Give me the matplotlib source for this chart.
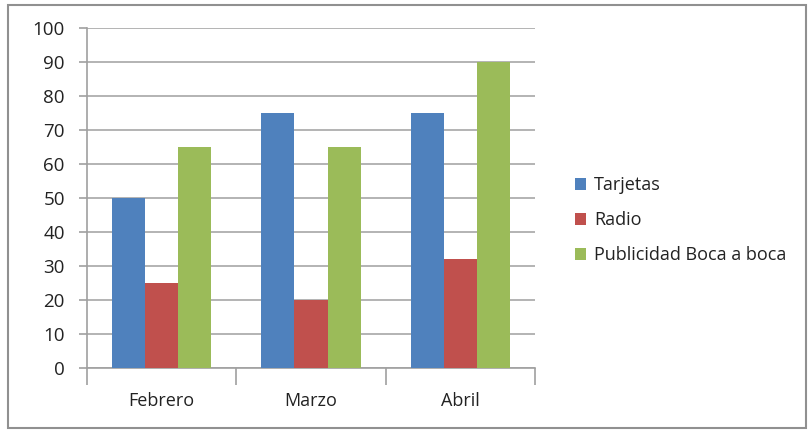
import numpy as np
import matplotlib.pyplot as plt
from matplotlib.patches import Rectangle

meses = ["Febrero", "Marzo", "Abril"]
tarjetas = [50, 75, 75]
radio = [25, 20, 32]
boca = [65, 65, 90]
series = ["Tarjetas", "Radio", "Publicidad Boca a boca"]
colores = ["#4F81BD", "#C0504D", "#9BBB59"]

plt.rcParams['font.family'] = ['Open Sans', 'DejaVu Sans']

fig = plt.figure(figsize=(8.1, 4.32), dpi=100)
ax = fig.add_axes([0.1074, 0.148, 0.553, 0.787])

x = np.arange(len(meses))
w = 0.222
for i, (vals, nombre) in enumerate(zip([tarjetas, radio, boca], series)):
    ax.bar(x + (i - 1) * w, vals, width=w, color=colores[i], label=nombre, zorder=3)

ax.set_xlim(-0.5, 2.5)
ax.set_ylim(0, 100)
ax.set_yticks(range(0, 101, 10))
ax.yaxis.grid(True, color="#b3b3b3", linewidth=1.4, zorder=0)
ax.set_xticks([-0.5, 0.5, 1.5, 2.5])
ax.set_xticklabels([])
ax.set_xticks(x, minor=True)
ax.set_xticklabels(meses, minor=True, fontsize=13, color="#222222")
ax.tick_params(axis="x", which="major", length=12, color="#a0a0a0", width=1.2)
ax.tick_params(axis="x", which="minor", length=0, pad=17)
ax.tick_params(axis="y", length=6, color="#a0a0a0", width=1.2, labelsize=13.5, labelcolor="#222222", pad=10)

for s in ["top", "right"]:
    ax.spines[s].set_visible(False)
for s in ["left", "bottom"]:
    ax.spines[s].set_color("#a0a0a0")
    ax.spines[s].set_linewidth(1.2)

leg = fig.legend(loc="center left", bbox_to_anchor=(0.69, 0.49), frameon=False,
                 fontsize=13, handlelength=0.6, handleheight=0.6, handletextpad=0.45,
                 labelspacing=0.95, labelcolor="#222222")

fig.patches.append(Rectangle((0.01, 0.01), 0.985, 0.978, transform=fig.transFigure,
                             fill=False, edgecolor="#909090", linewidth=1.5))

fig.savefig("out.png", dpi=100)
